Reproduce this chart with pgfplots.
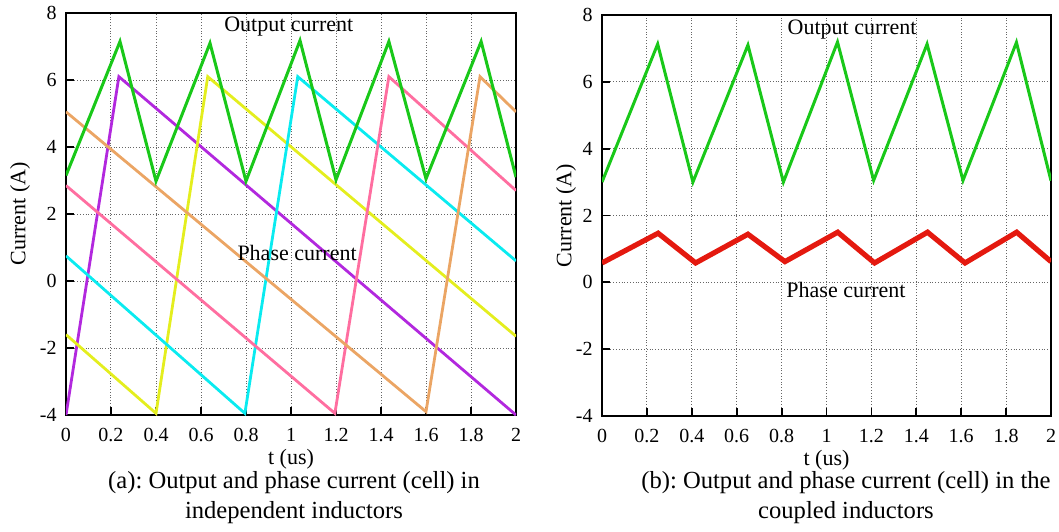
\documentclass[border=0pt]{standalone}
\usepackage{fontspec}
\setmainfont{Liberation Serif}
\usepackage{pgfplots}
\pgfplotsset{compat=1.18}
\definecolor{cgreen}{RGB}{25,200,25}
\definecolor{cpurple}{RGB}{178,40,222}
\definecolor{cyellow}{RGB}{228,238,30}
\definecolor{ccyan}{RGB}{10,235,240}
\definecolor{cpink}{RGB}{255,110,160}
\definecolor{corange}{RGB}{235,165,100}
\definecolor{cred}{RGB}{228,25,15}
\pgfplotsset{
  myax/.style={
    scale only axis,
    xmin=0, xmax=2, ymin=-4, ymax=8,
    xtick={0,0.2,0.4,0.6,0.8,1,1.2,1.4,1.6,1.8,2},
    ytick={-4,-2,0,2,4,6,8},
    grid=major,
    grid style={densely dotted, black!60, line width=0.5pt},
    axis line style={line width=1.3pt, black},
    tick align=inside, tick pos=left,
    major tick length=4pt,
    tick style={black, line width=0.9pt},
    /pgf/number format/assume math mode=true,
    ticklabel style={font=\fontsize{10}{12}\selectfont},
    xticklabel style={yshift=-3pt},
    yticklabel style={xshift=-1.2pt},
    label style={font=\fontsize{11}{13}\selectfont},
    xlabel style={at={(axis description cs:0.5,0)}, anchor=center, yshift=-22pt},
    xlabel={t (us)},
    ylabel={Current (A)},
  }
}
\begin{document}
\frenchspacing
\begin{tikzpicture}
\path[use as bounding box] (0,0) rectangle (529.5pt,265.5pt);

\begin{axis}[myax, at={(33pt,58pt)}, anchor=south west, width=225pt, height=201pt,
  ylabel style={at={(axis description cs:-0.102,0.5)}, anchor=center}]
\addplot[cpurple, line width=1.4pt] coordinates {(0,-4) (0.235,6.1) (2,-4)};
\addplot[cyellow, line width=1.4pt] coordinates {(0,-1.6) (0.4,-3.95) (0.63,6.1) (2,-1.65)};
\addplot[ccyan, line width=1.4pt] coordinates {(0,0.75) (0.795,-3.95) (1.03,6.1) (2,0.6)};
\addplot[cpink, line width=1.4pt] coordinates {(0,2.85) (1.195,-3.95) (1.435,6.1) (2,2.7)};
\addplot[corange, line width=1.4pt] coordinates {(0,5.05) (1.6,-3.9) (1.84,6.1) (2,5.05)};
\addplot[cgreen, line width=1.5pt] coordinates {(0,3.15) (0.24,7.15) (0.4,2.98) (0.64,7.1) (0.8,2.98) (1.04,7.18) (1.2,3.02) (1.435,7.15) (1.6,3.05) (1.845,7.15) (2,3.1)};
\node[font=\fontsize{11}{13}\selectfont] at (axis cs:0.99,7.6) {Output current};
\node[font=\fontsize{11}{13}\selectfont] at (axis cs:1.027,0.84) {Phase current};
\end{axis}

\begin{axis}[myax, at={(301pt,57.5pt)}, anchor=south west, width=224.5pt, height=200.5pt,
  ylabel style={at={(axis description cs:-0.08,0.5)}, anchor=center}]
\addplot[cgreen, line width=1.5pt] coordinates {(0,3.0) (0.248,7.13) (0.405,3.0) (0.65,7.1) (0.808,3.0) (1.049,7.19) (1.21,3.05) (1.448,7.13) (1.608,3.05) (1.846,7.18) (2,3.04)};
\addplot[cred, line width=2.6pt] coordinates {(0,0.58) (0.25,1.47) (0.417,0.58) (0.65,1.44) (0.815,0.62) (1.05,1.5) (1.214,0.58) (1.45,1.5) (1.617,0.58) (1.847,1.5) (2,0.62)};
\node[font=\fontsize{11}{13}\selectfont] at (axis cs:1.114,7.55) {Output current};
\node[font=\fontsize{11}{13}\selectfont] at (axis cs:1.087,-0.23) {Phase current};
\end{axis}

\node[font=\fontsize{12.3}{15}\selectfont, align=center] at (147pt,16.5pt) {(a): Output and phase current (cell) in\\independent inductors};
\node[font=\fontsize{12.3}{15}\selectfont, align=center] at (423pt,16.5pt) {(b): Output and phase current (cell) in the\\coupled inductors};
\end{tikzpicture}
\end{document}
